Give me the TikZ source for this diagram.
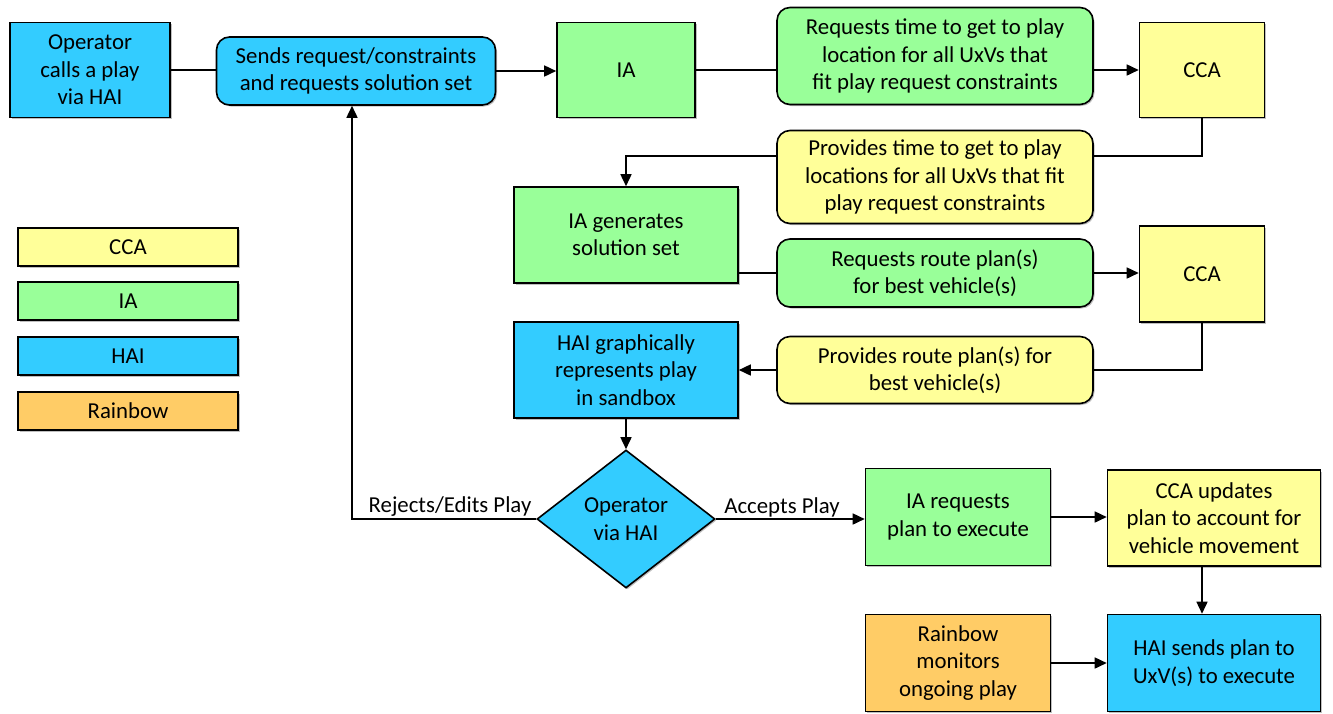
\documentclass[tikz,border=0pt]{standalone}
\usepackage{fontspec}
\setmainfont{Carlito}
\usetikzlibrary{arrows.meta,shapes.geometric,shadows}
\definecolor{haiblue}{HTML}{33CCFF}
\definecolor{iagreen}{HTML}{99FF99}
\definecolor{ccayellow}{HTML}{FFFF99}
\definecolor{rainorange}{HTML}{FFCC66}
\tikzset{
  base/.style={draw=black, line width=1.6pt, align=center, inner sep=0pt,
    font=\fontsize{22.8}{27.5}\selectfont,
    drop shadow={shadow xshift=1.5pt, shadow yshift=-1.5pt, opacity=0.25, fill=black}},
  sq/.style={base, rectangle},
  rnd/.style={base, rectangle, rounded corners=13pt},
  hai/.style={fill=haiblue},
  ia/.style={fill=iagreen},
  cca/.style={fill=ccayellow},
  rb/.style={fill=rainorange},
  sz/.style 2 args={minimum width=#1pt, minimum height=#2pt},
  link/.style={line width=1.6pt, draw=black},
  arr/.style={link, -{Triangle[length=12pt,width=11pt]}},
  lbl/.style={font=\fontsize{22.8}{26}\selectfont, inner sep=1pt, anchor=south}
}
\begin{document}
\begin{tikzpicture}[x=1pt,y=-1pt]
\useasboundingbox (0,0) rectangle (1333,713);

% main flow, top row
\node[sq, hai, sz={160}{95}] (op) at (90,70) {Operator\\calls a play\\via HAI};
\node[rnd, hai, sz={279}{68}] (send) at (356,71) {Sends request/constraints\\and requests solution set};
\node[sq, ia, sz={138}{95}] (ia1) at (626,70) {IA};
\node[rnd, ia, sz={316}{97}] (req1) at (935,56) {Requests time to get to play\\location for all UxVs that\\fit play request constraints};
\node[sq, cca, sz={125}{95}] (cca1) at (1202,70) {CCA};

% second row
\node[rnd, cca, sz={316}{93}] (prov1) at (935,177) {Provides time to get to play\\locations for all UxVs that fit\\play request constraints};
\node[sq, ia, sz={224}{96}] (iagen) at (626,235) {IA generates\\solution set};
\node[rnd, ia, sz={316}{68}] (req2) at (935,273) {Requests route plan(s)\\for best vehicle(s)};
\node[sq, cca, sz={125}{96}] (cca2) at (1202,274) {CCA};
\node[rnd, cca, sz={316}{67}] (prov2) at (935,370) {Provides route plan(s) for\\best vehicle(s)};
\node[sq, hai, sz={224}{96}] (hairep) at (626,370) {HAI graphically\\represents play\\in sandbox};

% decision and execution
\node[base, diamond, hai, minimum width=178pt, minimum height=138pt, aspect=1.29] (dec) at (626,519) {Operator\\via HAI};
\node[sq, ia, sz={185}{97}] (iareq) at (958,517) {IA requests\\plan to execute};
\node[sq, cca, sz={213}{96}] (ccaupd) at (1214,518) {CCA updates\\plan to account for\\vehicle movement};
\node[sq, rb, sz={185}{97}] (rain) at (958,663) {Rainbow\\monitors\\ongoing play};
\node[sq, hai, sz={213}{97}] (haisend) at (1214,663) {HAI sends plan to\\UxV(s) to execute};

% legend
\node[sq, cca, sz={220}{38}] (lgcca) at (128,247) {CCA};
\node[sq, ia, sz={220}{38}] (lgia) at (128,301) {IA};
\node[sq, hai, sz={220}{38}] (lghai) at (128,356) {HAI};
\node[sq, rb, sz={220}{38}] (lgrb) at (128,411) {Rainbow};

% connectors
\draw[link] (op.east) -- (op.east -| send.west);
\draw[arr] (send.east) -- (send.east -| ia1.west);
\draw[link] (ia1.east) -- (ia1.east -| req1.west);
\draw[arr] (req1.west |- ia1.east) ++(316,0) -- (cca1.west);

\coordinate (c1) at (1202,156);
\draw[link] (cca1.south) -- (c1) -- (c1 -| prov1.east);
\draw[arr] (c1 -| prov1.west) -| (iagen.north);

\draw[link] (iagen.east |- req2.west) -- (req2.west);
\draw[arr] (req2.east) -- (req2.east -| cca2.west);

\coordinate (c2) at (1202,370);
\draw[link] (cca2.south) -- (c2) -- (prov2.east);
\draw[arr] (prov2.west) -- (hairep.east);

\draw[arr] (hairep.south) -- (dec.north);

\coordinate (c3) at (352,519);
\draw[arr] (dec.west) -- (c3) -- (c3 |- send.south);
\node[lbl] (rej) at (450,518) {Rejects/Edits Play};
\draw[arr] (dec.east) -- (dec.east -| iareq.west);
\node[lbl] (acc) at (782,518) {Accepts Play};

\draw[arr] (iareq.east) -- (iareq.east -| ccaupd.west);
\coordinate (c4) at (1202,566);
\draw[arr] (c4) -- (c4 |- haisend.north);
\draw[arr] (rain.east) -- (rain.east -| haisend.west);
\end{tikzpicture}
\end{document}
